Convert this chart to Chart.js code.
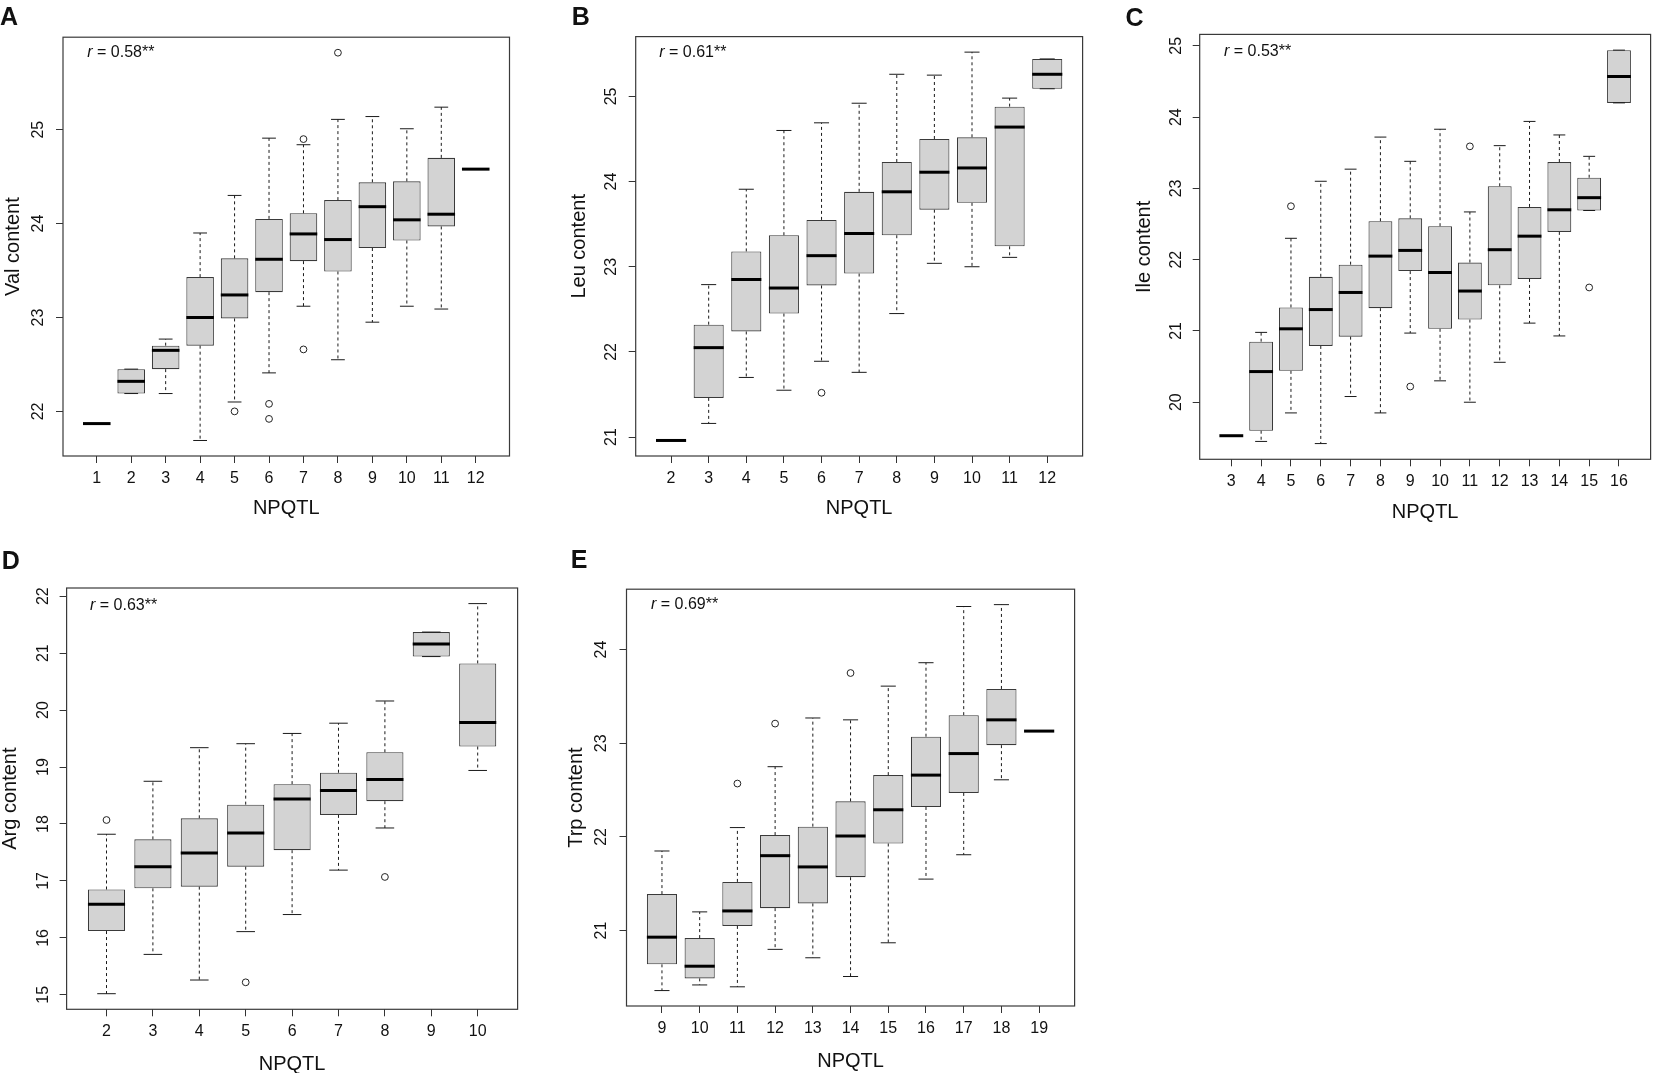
<!DOCTYPE html>
<html><head><meta charset="utf-8">
<script src="https://cdn.jsdelivr.net/npm/chart.js@4.4.1/dist/chart.umd.min.js"></script>
<style>
html,body{margin:0;padding:0;background:#fff}
body{width:1654px;height:1073px;overflow:hidden;position:relative;font-family:"Liberation Sans",Arial,Helvetica,sans-serif;color:#111}
canvas{position:absolute}
.lt{position:absolute;font-weight:bold;font-size:25px;line-height:25px;white-space:nowrap}
.rv{position:absolute;font-size:16px;line-height:16px;white-space:nowrap}
</style></head><body>
<script>
// ---------- DATA ----------
const valCats=[1,2,3,4,5,6,7,8,9,10,11,12];
const valMin=[21.87,22.19,22.19,21.69,22.10,22.41,23.12,22.55,22.95,23.12,23.09,24.58];
const valQ1 =[21.87,22.19,22.45,22.70,22.99,23.27,23.60,23.49,23.74,23.82,23.97,24.58];
const valMed=[21.87,22.32,22.65,23.00,23.24,23.62,23.89,23.83,24.18,24.04,24.10,24.58];
const valQ3 =[21.87,22.45,22.70,23.43,23.63,24.05,24.11,24.25,24.44,24.45,24.70,24.58];
const valMax=[21.87,22.45,22.77,23.90,24.30,24.91,24.84,25.11,25.14,25.01,25.24,24.58];
const valOut=[[5,22.00],[6,22.08],[6,21.92],[7,24.90],[7,22.66],[8,25.82]];
const valTicks=[22,23,24,25];

const leuCats=[2,3,4,5,6,7,8,9,10,11,12];
const leuMin=[20.96,21.16,21.70,21.55,21.89,21.76,22.45,23.04,23.00,23.11,25.09];
const leuQ1 =[20.96,21.46,22.24,22.45,22.78,22.92,23.37,23.67,23.75,23.24,25.09];
const leuMed=[20.96,22.05,22.85,22.75,23.13,23.39,23.88,24.11,24.16,24.64,25.26];
const leuQ3 =[20.96,22.32,23.18,23.37,23.55,23.88,24.23,24.50,24.52,24.88,25.44];
const leuMax=[20.96,22.79,23.91,24.60,24.69,24.92,25.26,25.25,25.52,24.98,25.44];
const leuOut=[[6,21.52]];
const leuTicks=[21,22,23,24,25];

const ileCats=[3,4,5,6,7,8,9,10,11,12,13,14,15,16];
const ileMin=[19.53,19.45,19.85,19.42,20.08,19.85,20.97,20.30,20.00,20.56,21.11,20.93,22.69,24.20];
const ileQ1 =[19.53,19.60,20.44,20.79,20.92,21.32,21.84,21.03,21.16,21.64,21.73,22.39,22.69,24.20];
const ileMed=[19.53,20.43,21.03,21.30,21.54,22.05,22.13,21.82,21.56,22.14,22.33,22.70,22.87,24.57];
const ileQ3 =[19.53,20.85,21.33,21.76,21.93,22.54,22.58,22.47,21.96,23.03,22.74,23.37,23.15,24.94];
const ileMax=[19.53,20.98,22.30,23.10,23.27,23.72,23.38,23.83,22.67,23.60,23.94,23.75,23.45,24.94];
const ileOut=[[5,22.75],[9,20.22],[11,23.59],[15,21.61]];
const ileTicks=[20,21,22,23,24,25];

const argCats=[2,3,4,5,6,7,8,9,10];
const argMin=[15.02,15.71,15.26,16.11,16.41,17.19,17.93,20.94,18.94];
const argQ1 =[16.12,16.87,16.90,17.25,17.54,18.16,18.40,20.94,19.36];
const argMed=[16.59,17.25,17.49,17.84,18.44,18.59,18.78,21.16,19.78];
const argQ3 =[16.85,17.73,18.10,18.34,18.70,18.90,19.26,21.37,20.82];
const argMax=[17.82,18.75,19.34,19.41,19.59,19.77,20.16,21.37,21.87];
const argOut=[[2,18.07],[5,15.22],[8,17.07]];
const argTicks=[15,16,17,18,19,20,21,22];

const trpCats=[9,10,11,12,13,14,15,16,17,18,19];
const trpMin=[20.36,20.42,20.40,20.80,20.71,20.51,20.87,21.55,21.81,22.61,23.13];
const trpQ1 =[20.64,20.49,21.05,21.24,21.29,21.57,21.93,22.32,22.47,22.98,23.13];
const trpMed=[20.93,20.62,21.21,21.80,21.68,22.01,22.29,22.66,22.89,23.25,23.13];
const trpQ3 =[21.39,20.92,21.52,22.02,22.11,22.38,22.66,23.07,23.30,23.58,23.13];
const trpMax=[21.85,21.20,22.10,22.75,23.27,23.25,23.61,23.86,24.46,24.48,23.13];
const trpOut=[[11,22.57],[12,23.21],[14,23.75]];
const trpTicks=[21,22,23,24];

const panelLetters=['A','B','C','D','E'];
const yLabels=['Val content','Leu content','Ile content','Arg content','Trp content'];
const rValues=['0.58','0.61','0.53','0.63','0.69'];
const xLabel='NPQTL';

// ---------- LAYOUT (pixels) ----------
const layouts=[
 {L:63,   R:509.5, T:33.3,  B:456,    yTitleX:12.5,   tickPad:8.6, xTitleY:508,  letter:[0,4],      rPos:[87.3,43.8]},
 {L:635.7,R:1083,  T:33.3,  B:456,    yTitleX:579.3,  tickPad:8.0, xTitleY:508,  letter:[571.7,4],  rPos:[659.3,43.8]},
 {L:1199.7,R:1650.8,T:32.3, B:459.3,  yTitleX:1143.8, tickPad:6.8, xTitleY:512,  letter:[1125.4,4.5],rPos:[1224,43.2]},
 {L:66.6, R:517.7, T:585.3, B:1009.3, yTitleX:10,     tickPad:7.4, xTitleY:1064, letter:[1.7,548],  rPos:[90,596.5]},
 {L:626.5,R:1075,  T:584.5, B:1006,   yTitleX:575.7,  tickPad:8.6, xTitleY:1061, letter:[570.7,547],rPos:[651,595.8]}
];

const FONT='"Liberation Sans", Arial, Helvetica, sans-serif';
Chart.defaults.font.family=FONT;
Chart.defaults.color='#111';

function makePanel(idx,cats,mins,q1s,meds,q3s,maxs,outs,ticks){
  const lay=layouts[idx];
  const cl=Math.round(lay.yTitleX-12);
  const ct=Math.round(lay.T-14);
  const padTop=lay.T-ct;
  const yW=lay.L-cl;
  const W=Math.ceil(lay.R-cl+4);
  const padRight=W-(lay.R-cl);
  const H=Math.round(lay.xTitleY+12-ct);
  const xH=H-padTop-(lay.B-lay.T);

  const cv=document.createElement('canvas');
  cv.width=W;cv.height=H;
  cv.style.left=cl+'px';cv.style.top=ct+'px';
  cv.style.width=W+'px';cv.style.height=H+'px';
  document.body.appendChild(cv);

  // value range as R's boxplot does (4% extension)
  let lo=Infinity,hi=-Infinity;
  mins.forEach(v=>{lo=Math.min(lo,v);});
  maxs.forEach(v=>{hi=Math.max(hi,v);});
  outs.forEach(o=>{lo=Math.min(lo,o[1]);hi=Math.max(hi,o[1]);});
  const ext=(hi-lo)*0.04;
  const n=cats.length;
  const xMin=cats[0]-0.5-0.04*n, xMax=cats[n-1]+0.5+0.04*n;

  const boxData=[];
  cats.forEach((c,i)=>{ if(q3s[i]>q1s[i]) boxData.push({x:c,y:[q1s[i],q3s[i]]}); });
  const outData=outs.map(o=>({x:o[0],y:o[1]}));

  const extras={
    id:'boxExtras'+idx,
    afterDatasetsDraw(chart){
      const {ctx,scales:{x,y}}=chart;
      ctx.save();
      ctx.strokeStyle='#1a1a1a';
      cats.forEach((c,i)=>{
        const px=x.getPixelForValue(c);
        const capL=x.getPixelForValue(c-0.2), capR=x.getPixelForValue(c+0.2);
        // whiskers (dashed)
        ctx.lineWidth=1;
        ctx.setLineDash([3,3]);
        ctx.beginPath();
        if(maxs[i]>q3s[i]){ctx.moveTo(px,y.getPixelForValue(q3s[i]));ctx.lineTo(px,y.getPixelForValue(maxs[i]));}
        if(mins[i]<q1s[i]){ctx.moveTo(px,y.getPixelForValue(q1s[i]));ctx.lineTo(px,y.getPixelForValue(mins[i]));}
        ctx.stroke();
        // staples
        ctx.setLineDash([]);
        ctx.beginPath();
        const yMaxP=y.getPixelForValue(maxs[i]), yMinP=y.getPixelForValue(mins[i]);
        ctx.moveTo(capL,yMaxP);ctx.lineTo(capR,yMaxP);
        ctx.moveTo(capL,yMinP);ctx.lineTo(capR,yMinP);
        ctx.stroke();
        // median
        ctx.lineWidth=3;
        ctx.strokeStyle='#000';
        ctx.beginPath();
        const ym=y.getPixelForValue(meds[i]);
        ctx.moveTo(x.getPixelForValue(c-0.4),ym);ctx.lineTo(x.getPixelForValue(c+0.4),ym);
        ctx.stroke();
        ctx.strokeStyle='#1a1a1a';
      });
      ctx.restore();
    },
    afterDraw(chart){
      const {ctx,chartArea:a}=chart;
      ctx.save();
      ctx.strokeStyle='#3a3a3a';ctx.lineWidth=1.2;
      ctx.strokeRect(a.left,a.top,a.right-a.left,a.bottom-a.top);
      ctx.restore();
    }
  };

  new Chart(cv,{
    type:'bar',
    data:{datasets:[
      {type:'bar',data:boxData,backgroundColor:'#d3d3d3',borderColor:'#3a3a3a',borderWidth:1.1,
       borderSkipped:false,categoryPercentage:0.8,barPercentage:1,grouped:false,order:2},
      {type:'scatter',data:outData,pointStyle:'circle',pointRadius:3.4,pointHoverRadius:3.4,pointBorderWidth:1,
       pointBorderColor:'#222',pointBackgroundColor:'rgba(255,255,255,0)',order:1}
    ]},
    options:{
      responsive:false,maintainAspectRatio:false,animation:false,
      layout:{padding:{left:0,top:padTop,right:padRight,bottom:0}},
      plugins:{legend:{display:false},tooltip:{enabled:false}},
      scales:{
        x:{type:'linear',min:xMin,max:xMax,offset:false,
           grid:{offset:false,drawOnChartArea:false,drawTicks:true,tickLength:7,color:'#333',lineWidth:1},
           border:{display:false},
           afterBuildTicks:s=>{s.ticks=cats.map(v=>({value:v}));},
           afterFit:s=>{s.height=xH;},
           ticks:{autoSkip:false,minRotation:0,maxRotation:0,padding:6,color:'#111',font:{size:16,family:FONT},callback:v=>String(v)},
           title:{display:true,text:xLabel,color:'#111',font:{size:20,family:FONT},padding:0}},
        y:{type:'linear',min:lo-ext,max:hi+ext,beginAtZero:false,
           grid:{drawOnChartArea:false,drawTicks:true,tickLength:7,color:'#333',lineWidth:1},
           border:{display:false},
           afterBuildTicks:s=>{s.ticks=ticks.map(v=>({value:v}));},
           afterFit:s=>{s.width=yW;},
           ticks:{autoSkip:false,minRotation:90,maxRotation:90,crossAlign:'center',padding:lay.tickPad,color:'#111',font:{size:16,family:FONT},callback:v=>String(v)},
           title:{display:true,text:yLabels[idx],color:'#111',font:{size:20,family:FONT},padding:0}}
      }
    },
    plugins:[extras]
  });

  const lt=document.createElement('div');
  lt.className='lt';lt.textContent=panelLetters[idx];
  lt.style.left=lay.letter[0]+'px';lt.style.top=lay.letter[1]+'px';
  document.body.appendChild(lt);
  const rv=document.createElement('div');
  rv.className='rv';
  rv.innerHTML='<i>r</i> = '+rValues[idx]+'**';
  rv.style.left=lay.rPos[0]+'px';rv.style.top=lay.rPos[1]+'px';
  document.body.appendChild(rv);
}

makePanel(0,valCats,valMin,valQ1,valMed,valQ3,valMax,valOut,valTicks);
makePanel(1,leuCats,leuMin,leuQ1,leuMed,leuQ3,leuMax,leuOut,leuTicks);
makePanel(2,ileCats,ileMin,ileQ1,ileMed,ileQ3,ileMax,ileOut,ileTicks);
makePanel(3,argCats,argMin,argQ1,argMed,argQ3,argMax,argOut,argTicks);
makePanel(4,trpCats,trpMin,trpQ1,trpMed,trpQ3,trpMax,trpOut,trpTicks);
</script>
</body></html>
